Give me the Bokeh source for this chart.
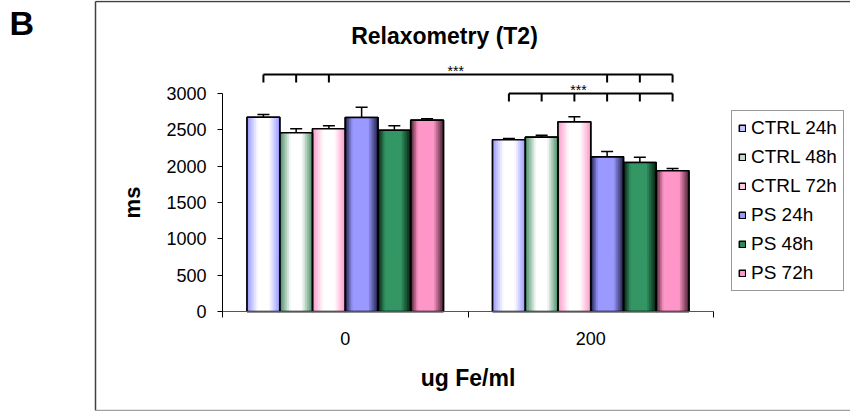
import numpy as np
from bokeh.plotting import figure
from bokeh.models import (Range1d, FixedTicker, Legend, LegendItem, Whisker, TeeHead,
                          ColumnDataSource, Label)
from bokeh.core.properties import value
from bokeh.embed import file_html
from bokeh.resources import INLINE

# ---------------- data ----------------
categories = ["0", "200"]
series = ["CTRL 24h", "CTRL 48h", "CTRL 72h", "PS 24h", "PS 48h", "PS 72h"]
vals_0 = [2674, 2459, 2514, 2670, 2495, 2633]
vals_200 = [2363, 2399, 2610, 2128, 2050, 1936]
err_0 = [37, 55, 41, 142, 60, 20]
err_200 = [18, 28, 69, 73, 73, 32]
y_ticks = [0, 500, 1000, 1500, 2000, 2500, 3000]
sig_top = [(0, 0), (0, 1), (0, 2), (1, 3), (1, 4), (1, 5)]
sig_inner = [(1, 0), (1, 1), (1, 2), (1, 3), (1, 4), (1, 5)]
sig_text = ["***", "***"]
title_text = "Relaxometry (T2)"
panel_letter = "B"
x_title = "ug Fe/ml"
y_title = "ms"

# ---------------- style / geometry ----------------
FONT = "Liberation Sans"
W, H = 850, 411
AX_L, AX_R, AX_B = 222, 713, 311          # pixel positions of the axes
Y_AXIS_MAX = 3000
PX_PER_Y = 218.0 / Y_AXIS_MAX
PX_PER_X = (AX_R - AX_L) / 2.0

def px_x(px):
    return (px - AX_L) / PX_PER_X

def px_y(py):
    return (AX_B - py) / PX_PER_Y

edge_cols = {
    "CTRL 24h": ((150, 150, 255), (255, 255, 255), "ctrl"),
    "CTRL 48h": ((70, 140, 100), (255, 255, 255), "ctrl"),
    "CTRL 72h": ((255, 150, 200), (255, 255, 255), "ctrl"),
    "PS 24h": ((30, 30, 70), (153, 153, 255), "ps"),
    "PS 48h": ((5, 30, 15), (51, 150, 100), "ps"),
    "PS 72h": ((70, 30, 45), (255, 150, 200), "ps"),
}
legend_cols = ["#c4c4ff", "#c4dccb", "#ffcce5", "#9999ff", "#2e8b57", "#ff99cc"]

def hexc(c):
    return "#%02x%02x%02x" % tuple(int(round(v)) for v in c)

def grad_color(name, t):
    dark, light, kind = edge_cols[name]
    if kind == "ctrl":
        f = 1 - abs(2 * t - 1)
        s = min(1.0, 1.5 * f)
    else:
        c = 0.42
        f = t / c if t < c else (1 - t) / (1 - c)
        s = min(1.0, 1.9 * f)
    return hexc([d + (l - d) * s for d, l in zip(dark, light)])

p = figure(width=W, height=H, output_backend="svg", toolbar_location=None,
           title=None,
           x_range=Range1d(px_x(0), px_x(W)), y_range=Range1d(px_y(H), px_y(0)),
           min_border=0, min_border_left=0, min_border_right=0,
           min_border_top=0, min_border_bottom=0)
p.outline_line_color = None
p.xgrid.visible = False
p.ygrid.visible = False
p.background_fill_color = "white"
p.border_fill_color = "white"

group_w = 0.8
bw = group_w / len(series)

def bar_center(g, j):
    return g + 0.5 - group_w / 2 + bw * (j + 0.5)

values = [vals_0, vals_200]
errors = [err_0, err_200]

# outer frame of the figure panel
p.segment(x0=[px_x(95), px_x(95)], y0=[px_y(1), px_y(1)],
          x1=[px_x(W + 5), px_x(95)], y1=[px_y(1), px_y(410)],
          line_color="#404040", line_width=1.5)
p.segment(x0=[px_x(95)], y0=[px_y(410)], x1=[px_x(W + 5)], y1=[px_y(410)],
          line_color="#a0a0a0", line_width=1.5)

# legend renderers (full bars underneath the gradient strips)
legend_items = []
for j, name in enumerate(series):
    xs = [bar_center(g, j) for g in range(len(categories))]
    tops = [values[g][j] for g in range(len(categories))]
    r = p.vbar(x=xs, top=tops, bottom=0, width=bw, fill_color=legend_cols[j],
               line_color="black", line_width=1.5)
    legend_items.append(LegendItem(label=name, renderers=[r]))

# gradient strips
NS = 18
sl, sr, st, sc = [], [], [], []
for g in range(len(categories)):
    for j, name in enumerate(series):
        left = bar_center(g, j) - bw / 2
        w = bw / NS
        for k in range(NS):
            sl.append(left + k * w)
            sr.append(left + min(k + 1.6, NS) * w)
            st.append(values[g][j])
            sc.append(grad_color(name, (k + 0.5) / NS))
p.quad(left=sl, right=sr, bottom=0, top=st, fill_color=sc, line_color=None)

# outlines
ox, ot = [], []
for g in range(len(categories)):
    for j in range(len(series)):
        ox.append(bar_center(g, j))
        ot.append(values[g][j])
p.vbar(x=ox, top=ot, bottom=0, width=bw, fill_color=None, line_color="black",
       line_width=1.6)

# error bars
ex, el, eu = [], [], []
for g in range(len(categories)):
    for j in range(len(series)):
        ex.append(bar_center(g, j))
        el.append(values[g][j])
        eu.append(values[g][j] + errors[g][j])
esrc = ColumnDataSource(dict(x=ex, lower=el, upper=eu))
wh = Whisker(source=esrc, base="x", lower="lower", upper="upper",
             line_color="black", line_width=1.5, lower_head=None,
             upper_head=TeeHead(size=12, line_color="black", line_width=1.5))
p.add_layout(wh)

# significance brackets
def bracket(pairs, yb, txt):
    xs_ = [bar_center(g, j) for g, j in pairs]
    depth = 8 / PX_PER_Y
    p.segment(x0=[min(xs_)], y0=[yb], x1=[max(xs_)], y1=[yb], line_color="black",
              line_width=2)
    p.segment(x0=xs_, y0=[yb] * len(xs_), x1=xs_, y1=[yb - depth] * len(xs_),
              line_color="black", line_width=2)
    p.text(x=[(min(xs_) + max(xs_)) / 2 - 0.05], y=[yb], text=[txt], text_align="center",
           text_baseline="alphabetic", text_font=value(FONT), text_font_size="14px",
           text_color="black", y_offset=-4)

bracket(sig_top, Y_AXIS_MAX + 19 / PX_PER_Y, sig_text[0])
bracket(sig_inner, Y_AXIS_MAX, sig_text[1])

# axes (fixed at the data origin)
ya = p.yaxis[0]
ya.fixed_location = 0
ya.ticker = FixedTicker(ticks=y_ticks)
ya.bounds = (0, Y_AXIS_MAX)
ya.major_tick_out = 5
ya.major_tick_in = 0
ya.minor_tick_out = 0
ya.minor_tick_in = 0
ya.axis_line_color = "black"
ya.major_tick_line_color = "black"
ya.major_label_text_font = FONT
ya.major_label_text_font_size = "18px"
ya.major_label_text_color = "black"
ya.major_label_standoff = 11

xa = p.xaxis[0]
xa.fixed_location = 0
xa.bounds = (0, 2)
xa.ticker = FixedTicker(ticks=[0.5, 1.5], minor_ticks=[0, 1, 2])
xa.major_label_overrides = {0.5: categories[0], 1.5: categories[1]}
xa.major_tick_out = 0
xa.major_tick_in = 0
xa.minor_tick_out = 6
xa.minor_tick_in = 0
xa.minor_tick_line_color = "black"
xa.axis_line_color = "#555555"
xa.major_label_text_font = FONT
xa.major_label_text_font_size = "18px"
xa.major_label_text_color = "black"
xa.major_label_standoff = 14

# axis titles, chart title and panel letter
p.add_layout(Label(x=px_x(467.5), y=px_y(377), text=x_title, text_align="center",
                   text_baseline="alphabetic", text_font=FONT, text_font_size="23px",
                   text_font_style="bold", text_color="black"))
p.add_layout(Label(x=px_x(132), y=px_y(202), text=y_title, text_align="center",
                   text_baseline="alphabetic", angle=np.pi / 2, text_font=FONT,
                   text_font_size="22px", text_font_style="bold", text_color="black"))
p.add_layout(Label(x=px_x(444), y=px_y(35), text=title_text, text_align="center",
                   text_baseline="alphabetic", text_font=FONT, text_font_size="23px",
                   text_font_style="bold", text_color="black"))
p.add_layout(Label(x=px_x(9), y=px_y(22), text=panel_letter, text_align="left",
                   text_baseline="alphabetic", text_font=FONT, text_font_size="34px",
                   text_font_style="bold", text_color="black"))

# legend
legend = Legend(items=legend_items, location=(731, H - 291))
legend.border_line_color = "#333333"
legend.border_line_width = 1
legend.background_fill_color = "white"
legend.background_fill_alpha = 1
legend.label_text_font = FONT
legend.label_text_font_size = "19px"
legend.label_text_color = "black"
legend.glyph_width = 8
legend.glyph_height = 8
legend.label_standoff = 5
legend.label_height = 20
legend.spacing = 7
legend.padding = 6
legend.margin = 0
p.add_layout(legend)

open("out.html", "w").write(file_html(p, INLINE))
